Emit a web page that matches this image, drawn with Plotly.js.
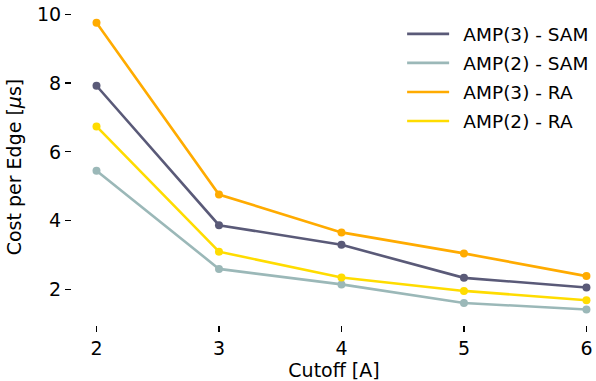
<!DOCTYPE html>
<html>
<head>
<meta charset="utf-8">
<script src="https://cdn.plot.ly/plotly-3.0.1.min.js"></script>
<style>html,body{margin:0;padding:0;background:#fff;}#chart{width:596px;height:381px;}</style>
</head>
<body>
<div id="chart"></div>
<script>
const cutoff = [2, 3, 4, 5, 6];
const amp3Sam = [7.92, 3.87, 3.30, 2.34, 2.06];
const amp2Sam = [5.45, 2.60, 2.15, 1.61, 1.42];
const amp3Ra = [9.75, 4.76, 3.66, 3.05, 2.39];
const amp2Ra = [6.74, 3.10, 2.35, 1.96, 1.69];
const seriesNames = ['AMP(3) - SAM', 'AMP(2) - SAM', 'AMP(3) - RA', 'AMP(2) - RA'];
const seriesColors = ['#5a5a78', '#9bb8b8', '#ffab00', '#ffdc00'];
const xTicks = [2, 3, 4, 5, 6];
const yTicks = [2, 4, 6, 8, 10];

const values = [amp3Sam, amp2Sam, amp3Ra, amp2Ra];
const traces = [];
values.forEach((v, i) => {
  traces.push({
    x: cutoff, y: v, name: '\u2002' + seriesNames[i], type: 'scatter', mode: 'lines',
    legendgroup: 'g' + i,
    line: {color: seriesColors[i], width: 2.6}
  });
  traces.push({
    x: cutoff, y: v, name: seriesNames[i], type: 'scatter', mode: 'markers',
    legendgroup: 'g' + i, showlegend: false,
    marker: {color: seriesColors[i], size: 8}
  });
});

const font = {family: 'DejaVu Sans', size: 19, color: '#000'};
const legendFont = {family: 'DejaVu Sans', size: 18.5, color: '#000'};
const layout = {
  width: 596, height: 381,
  margin: {l: 72, r: 0, t: 9, b: 56},
  paper_bgcolor: '#fff', plot_bgcolor: '#fff',
  font: font,
  showlegend: true,
  legend: {x: 0.630, y: 0.98, xanchor: 'left', yanchor: 'top', font: legendFont,
           bgcolor: 'rgba(0,0,0,0)', borderwidth: 0, tracegroupgap: 2, itemwidth: 42, traceorder: 'grouped'},
  xaxis: {
    range: [1.8, 6.078], tickvals: xTicks, ticktext: xTicks.map(String),
    showgrid: false, zeroline: false, showline: false, automargin: false,
    ticks: 'outside', ticklen: 6, tickwidth: 1.2, tickcolor: '#000',
    tickfont: font,
    title: {text: 'Cutoff [A]', font: font, standoff: 8}
  },
  yaxis: {
    range: [0.97, 10.15], tickvals: yTicks, ticktext: yTicks.map(String),
    showgrid: false, zeroline: false, showline: false, automargin: false,
    ticks: 'outside', ticklen: 6, tickwidth: 1.2, tickcolor: '#000',
    tickfont: font,
    title: {text: 'Cost per Edge [<i>μ</i>s]', font: font, standoff: 10}
  }
};
Plotly.newPlot('chart', traces, layout, {displayModeBar: false, staticPlot: true});
</script>
</body>
</html>
